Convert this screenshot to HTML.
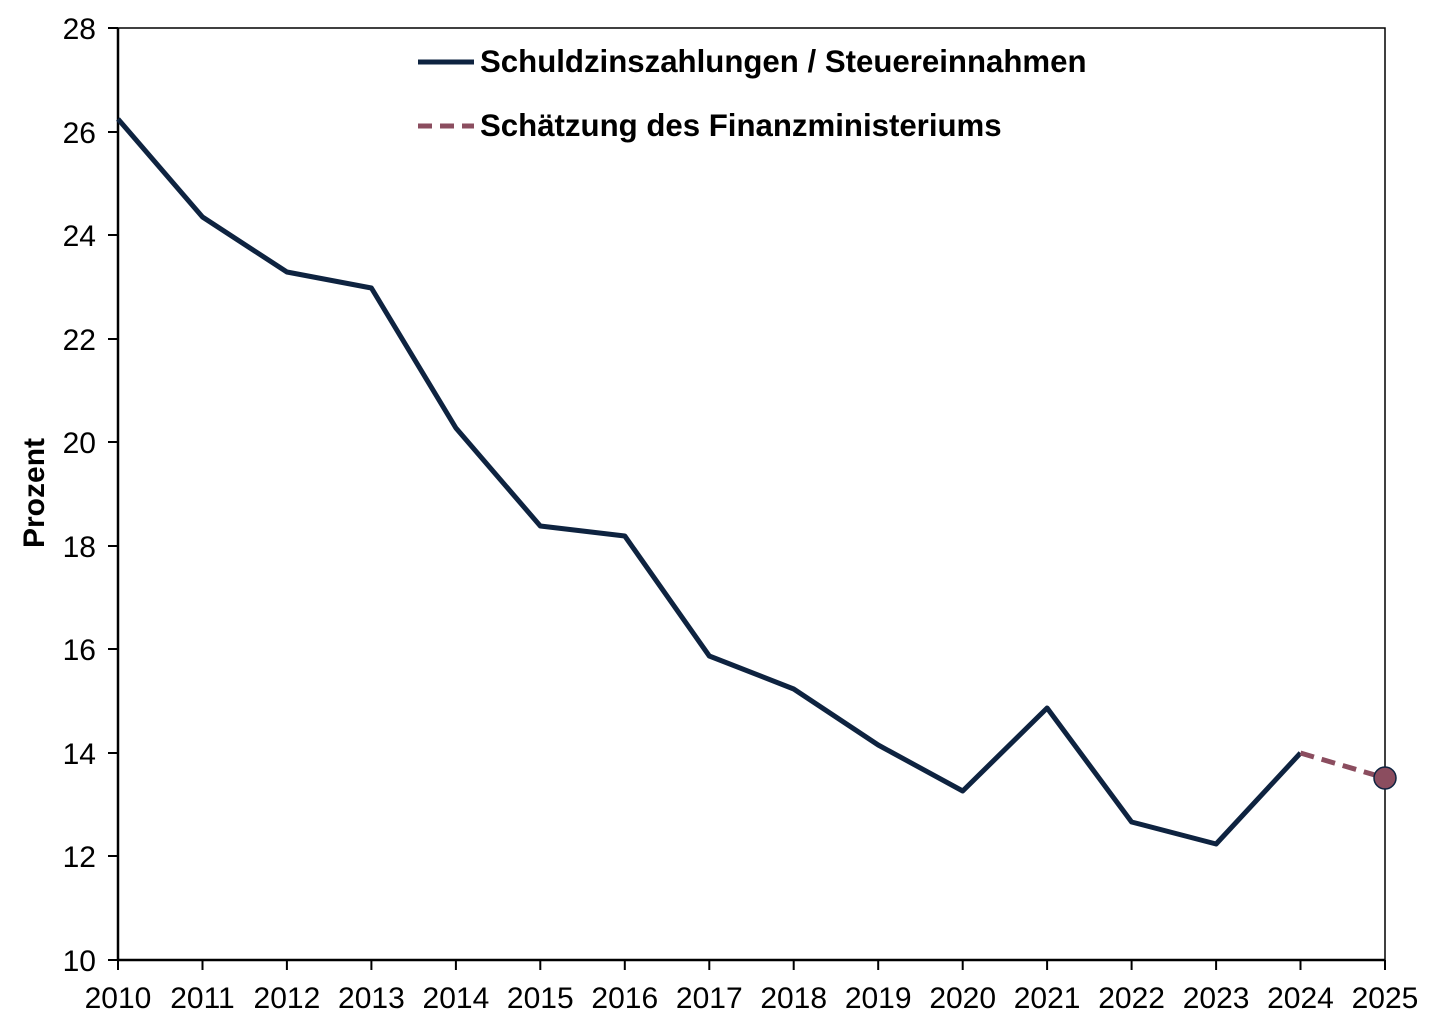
<!DOCTYPE html>
<html><head><meta charset="utf-8"><style>body{margin:0;background:#fff}svg{display:block}text{font-family:"Liberation Sans",Arial,sans-serif}</style></head><body>
<svg width="1431" height="1024" viewBox="0 0 1431 1024">
<rect x="118" y="28" width="1267" height="932" fill="none" stroke="#000" stroke-width="1.5"/>
<line x1="118" y1="28" x2="118" y2="960" stroke="#000" stroke-width="2.5"/>
<line x1="118" y1="960" x2="1385" y2="960" stroke="#000" stroke-width="2.5"/>
<g stroke="#000" stroke-width="2">
<line x1="108" y1="28" x2="118" y2="28"/><line x1="108" y1="132" x2="118" y2="132"/><line x1="108" y1="235" x2="118" y2="235"/><line x1="108" y1="339" x2="118" y2="339"/><line x1="108" y1="442" x2="118" y2="442"/><line x1="108" y1="546" x2="118" y2="546"/><line x1="108" y1="649" x2="118" y2="649"/><line x1="108" y1="753" x2="118" y2="753"/><line x1="108" y1="856" x2="118" y2="856"/><line x1="108" y1="960" x2="118" y2="960"/>
</g>
<g font-size="30" text-anchor="end" fill="#000">
<text x="96" y="39">28</text><text x="96" y="143">26</text><text x="96" y="246">24</text><text x="96" y="350">22</text><text x="96" y="453">20</text><text x="96" y="557">18</text><text x="96" y="660">16</text><text x="96" y="764">14</text><text x="96" y="867">12</text><text x="96" y="971">10</text>
</g>
<g font-size="30" text-anchor="middle" fill="#000">
<text x="118" y="1008">2010</text><text x="202.5" y="1008">2011</text><text x="286.9" y="1008">2012</text><text x="371.4" y="1008">2013</text><text x="455.9" y="1008">2014</text><text x="540.3" y="1008">2015</text><text x="624.8" y="1008">2016</text><text x="709.3" y="1008">2017</text><text x="793.7" y="1008">2018</text><text x="878.2" y="1008">2019</text><text x="962.7" y="1008">2020</text><text x="1047.1" y="1008">2021</text><text x="1131.6" y="1008">2022</text><text x="1216.1" y="1008">2023</text><text x="1300.5" y="1008">2024</text><text x="1385" y="1008">2025</text>
</g>
<g stroke="#000" stroke-width="2">
<line x1="202.5" y1="960" x2="202.5" y2="970"/><line x1="286.9" y1="960" x2="286.9" y2="970"/><line x1="371.4" y1="960" x2="371.4" y2="970"/><line x1="455.9" y1="960" x2="455.9" y2="970"/><line x1="540.3" y1="960" x2="540.3" y2="970"/><line x1="624.8" y1="960" x2="624.8" y2="970"/><line x1="709.3" y1="960" x2="709.3" y2="970"/><line x1="793.7" y1="960" x2="793.7" y2="970"/><line x1="878.2" y1="960" x2="878.2" y2="970"/><line x1="962.7" y1="960" x2="962.7" y2="970"/><line x1="1047.1" y1="960" x2="1047.1" y2="970"/><line x1="1131.6" y1="960" x2="1131.6" y2="970"/><line x1="1216.1" y1="960" x2="1216.1" y2="970"/><line x1="1300.5" y1="960" x2="1300.5" y2="970"/><line x1="118" y1="960" x2="118" y2="970"/><line x1="1385" y1="960" x2="1385" y2="970"/>
</g>
<text transform="translate(44,493) rotate(-90)" font-size="30" font-weight="bold" text-anchor="middle">Prozent</text>
<polyline fill="none" stroke="#0e2340" stroke-width="5" stroke-linejoin="round" points="118,119 202.5,217 286.9,272 371.4,288 455.9,428 540.3,526 624.8,536 709.3,656 793.7,689 878.2,745 962.7,791 1047.1,708 1131.6,822 1216.1,844 1300.5,753"/>
<line x1="1300.5" y1="753" x2="1385" y2="778" stroke="#8b4d5f" stroke-width="5" stroke-dasharray="14,8"/>
<circle cx="1385" cy="778" r="11" fill="#8b4d5f" stroke="#0e2340" stroke-width="1.5"/>
<line x1="418" y1="62" x2="474" y2="62" stroke="#0e2340" stroke-width="5"/>
<text x="480" y="72" font-size="31.2" font-weight="bold">Schuldzinszahlungen / Steuereinnahmen</text>
<line x1="418" y1="126" x2="474" y2="126" stroke="#8b4d5f" stroke-width="5" stroke-dasharray="14,8"/>
<text x="480" y="136" font-size="31.2" font-weight="bold">Schätzung des Finanzministeriums</text>
</svg>
</body></html>
